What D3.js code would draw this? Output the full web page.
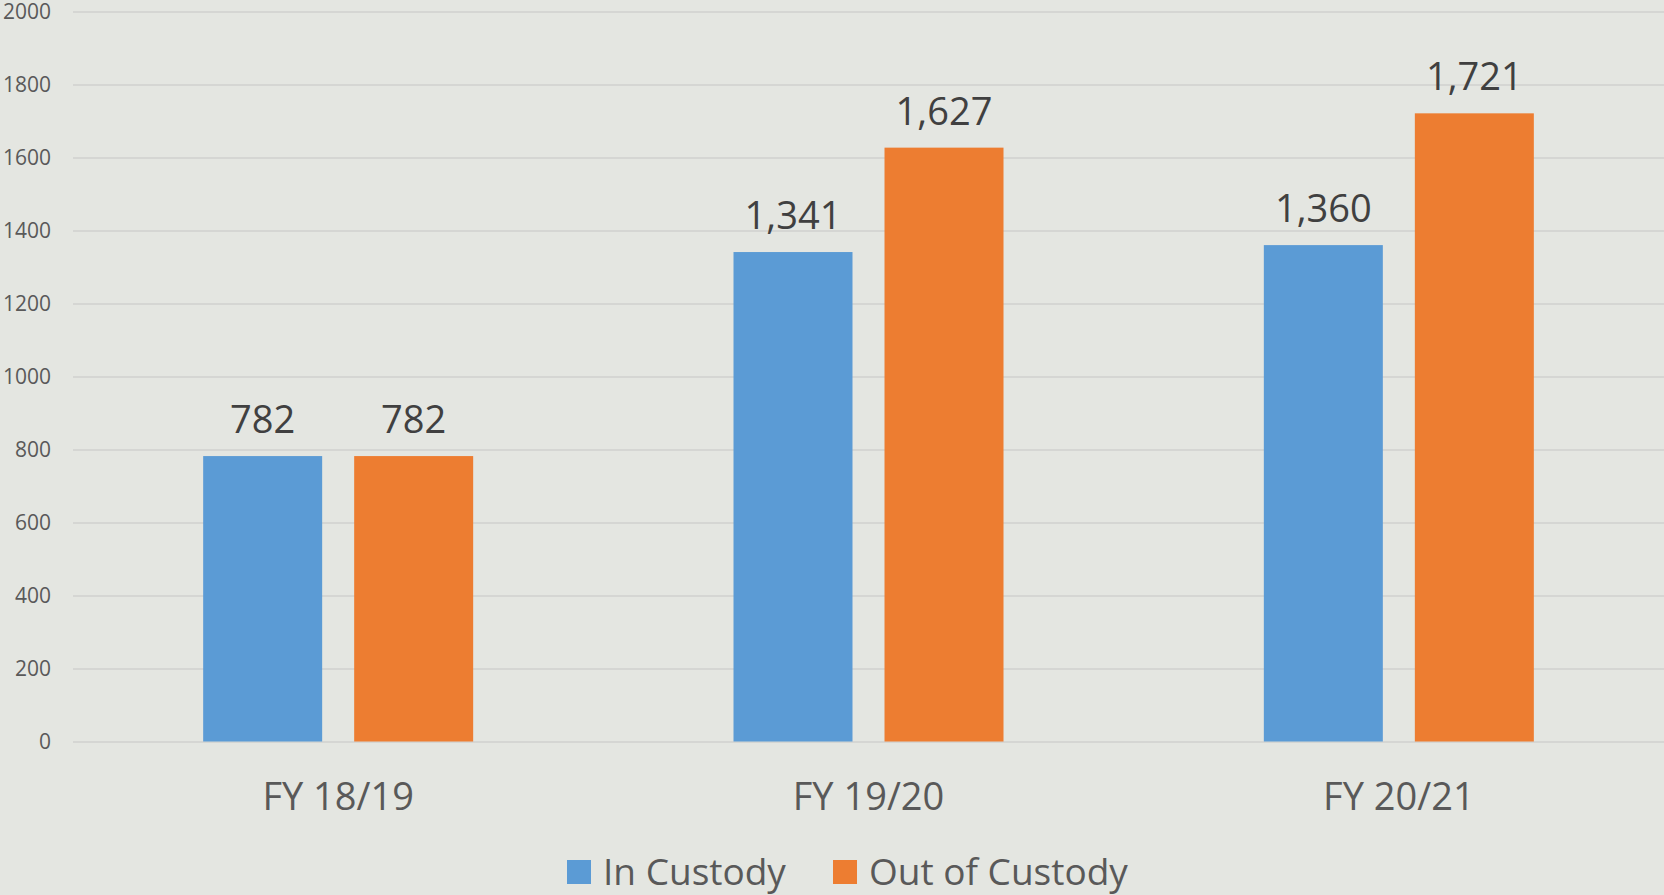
<!DOCTYPE html>
<html>
<head>
<meta charset="utf-8">
<script src="https://cdn.jsdelivr.net/npm/d3@7"></script>
<style>
  html, body { margin: 0; padding: 0; background: #e4e6e1; }
  svg { display: block; }
</style>
</head>
<body>
<div id="paper"></div>
<script>
// data

const categories = ['FY 18/19', 'FY 19/20', 'FY 20/21']
const series = ['In Custody', 'Out of Custody']
const inCustody = [782, 1341, 1360]
const outOfCustody = [782, 1627, 1721]
const yTicks = [0, 200, 400, 600, 800, 1000, 1200, 1400, 1600, 1800, 2000]

const colors = ['#5b9bd5', '#ed7d31']
const values = [inCustody, outOfCustody]

// svg

const W = 1664, H = 895
const plotLeft = 73, plotRight = 1664, plotTop = 11.5, plotBottom = 741.5

const svg = d3.select('#paper')
    .append('svg')
    .attr('id', 'canvas')
    .attr('width', W)
    .attr('height', H)

svg.append('rect').attr('width', W).attr('height', H).attr('fill', '#e4e6e1')

// scales

const x0 = d3.scaleBand().domain(categories).range([plotLeft, plotRight]).padding(0)
const x1 = d3.scaleBand().domain(series).range([0, x0.bandwidth()])
    .paddingInner(0.212).paddingOuter(0.862)
const y = d3.scaleLinear().domain([0, 2000]).range([plotBottom, plotTop])

// y axis + gridlines

const yAxis = svg.append('g')
    .attr('transform', `translate(${plotLeft},0)`)
    .call(d3.axisLeft(y).tickValues(yTicks).tickSize(-(plotRight - plotLeft)).tickPadding(22).tickFormat(d3.format('d')))

yAxis.select('.domain').remove()
yAxis.selectAll('line').attr('stroke', '#d5d6d3').attr('stroke-width', 2)
yAxis.selectAll('text')
    .attr('font-family', 'Open Sans')
    .attr('font-size', '21px')
    .attr('fill', '#595959')

// bars

const rows = categories.map((c, i) => series.map((s, j) => ({cat: c, ser: s, value: values[j][i], color: colors[j]})))

const groups = svg.selectAll('g.grp')
    .data(rows)
    .join('g')
    .attr('class', 'grp')
    .attr('transform', (d, i) => `translate(${x0(categories[i])},0)`)

groups.selectAll('rect')
    .data(d => d)
    .join('rect')
    .attr('x', d => x1(d.ser))
    .attr('width', x1.bandwidth())
    .attr('y', d => y(d.value))
    .attr('height', d => y(0) - y(d.value))
    .attr('fill', d => d.color)

// value labels

groups.selectAll('text')
    .data(d => d)
    .join('text')
    .attr('x', d => x1(d.ser) + x1.bandwidth() / 2)
    .attr('y', d => y(d.value) - 23)
    .attr('text-anchor', 'middle')
    .attr('font-family', 'Open Sans')
    .attr('font-size', '38px')
    .attr('fill', '#404040')
    .text(d => d3.format(',')(d.value))

// category labels

svg.selectAll('text.cat')
    .data(categories)
    .join('text')
    .attr('class', 'cat')
    .attr('x', d => x0(d) + x0.bandwidth() / 2)
    .attr('y', 810)
    .attr('text-anchor', 'middle')
    .attr('font-family', 'Open Sans')
    .attr('font-size', '38px')
    .attr('fill', '#595959')
    .text(d => d)

// legend

const legendX = [567, 833]
const legend = svg.selectAll('g.leg')
    .data(series)
    .join('g')
    .attr('class', 'leg')
    .attr('transform', (d, i) => `translate(${legendX[i]},860)`)

legend.append('rect')
    .attr('width', 24)
    .attr('height', 24)
    .attr('fill', (d, i) => colors[i])

legend.append('text')
    .attr('x', 36)
    .attr('y', 25)
    .attr('font-family', 'Open Sans')
    .attr('font-size', '37px')
    .attr('fill', '#595959')
    .text(d => d)
</script>
</body>
</html>
